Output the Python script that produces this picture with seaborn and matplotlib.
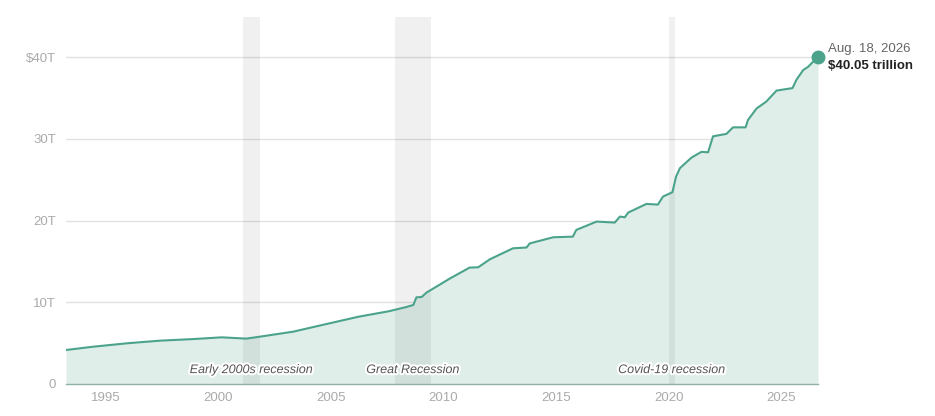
import pandas as pd
import numpy as np
import matplotlib.pyplot as plt
import matplotlib.patheffects as pe
import seaborn as sns

sns.set_theme(style="white")
plt.rcParams['font.family'] = ['Liberation Sans', 'DejaVu Sans']

# Total public debt outstanding, trillions of dollars
dates = ['1993-04-01', '1994-06-01', '1995-12-15', '1997-06-01', '1998-12-01', '2000-03-01',
         '2001-04-01', '2002-01-01', '2003-05-01', '2004-10-01', '2006-04-01', '2007-08-01',
         '2008-05-01', '2008-09-01', '2008-10-20', '2009-01-15', '2009-04-01', '2010-04-15',
         '2011-03-01', '2011-07-20', '2012-01-25', '2013-02-01', '2013-09-10', '2013-11-01',
         '2014-11-15', '2015-10-01', '2015-11-25', '2016-10-20', '2017-08-10', '2017-11-01',
         '2018-01-20', '2018-03-15', '2019-01-05', '2019-07-10', '2019-10-01', '2020-03-01',
         '2020-05-01', '2020-07-01', '2021-01-05', '2021-06-15', '2021-10-01', '2021-12-20',
         '2022-07-25', '2022-11-10', '2023-06-01', '2023-07-10', '2023-11-25', '2024-05-01',
         '2024-10-15', '2025-07-01', '2025-09-01', '2025-12-20', '2026-03-10', '2026-08-18']
debt = [4.16, 4.55, 4.98, 5.30, 5.50, 5.71,
        5.55, 5.85, 6.40, 7.30, 8.24, 8.90,
        9.40, 9.67, 10.60, 10.65, 11.18, 12.90,
        14.24, 14.28, 15.26, 16.60, 16.70, 17.20,
        17.95, 18.03, 18.85, 19.87, 19.75, 20.48,
        20.40, 20.97, 22.03, 21.95, 22.93, 23.46,
        25.40, 26.40, 27.70, 28.40, 28.35, 30.30,
        30.60, 31.40, 31.40, 32.30, 33.70, 34.55,
        35.90, 36.20, 37.20, 38.40, 38.80, 40.05]

recessions = [('Early 2000s recession', '2001-02-05', '2001-11-10'),
              ('Great Recession', '2007-11-05', '2009-06-15'),
              ('Covid-19 recession', '2020-01-01', '2020-04-10')]

y_ticks = [0, 10, 20, 30, 40]
y_labels = ['0', '10T', '20T', '30T', '$40T']
x_ticks = [1995, 2000, 2005, 2010, 2015, 2020, 2025]

df = pd.DataFrame({'date': pd.to_datetime(dates), 'debt': debt})

line_color = '#4aa38a'
fill_color = '#e0eeea'

fig = plt.figure(figsize=(9.35, 4.16), dpi=100)
ax = fig.add_axes([66 / 935, 1 - 384 / 416, (818 - 66) / 935, (384 - 17) / 416])

for yt in y_ticks[1:]:
    ax.axhline(yt, color='#e2e2e2', lw=1, zorder=1)

ax.fill_between(df['date'], 0, df['debt'], color=fill_color, zorder=2, lw=0)

# recession bands, laid over the area so they darken it a bit
for name, start, end in recessions:
    ax.axvspan(pd.Timestamp(start), pd.Timestamp(end), color='black', alpha=0.06, zorder=2.5, lw=0)

sns.lineplot(data=df, x='date', y='debt', ax=ax, color=line_color, lw=1.5, zorder=3)
ax.plot(df['date'].iloc[-1], df['debt'].iloc[-1], 'o', color=line_color, ms=9, zorder=4, clip_on=False)

for name, start, end in recessions:
    mid = pd.Timestamp(start) + (pd.Timestamp(end) - pd.Timestamp(start)) / 2
    ax.text(mid, 1.7, name, ha='center', va='center', style='italic', fontsize=9, color='#555555',
            zorder=5, path_effects=[pe.withStroke(linewidth=3, foreground='white')])

last_date = df['date'].iloc[-1]
ax.annotate('Aug. 18, 2026', xy=(last_date, df['debt'].iloc[-1]), xytext=(7.5, 5.5), textcoords='offset points',
            fontsize=9.5, color='#666666', va='center', ha='left', annotation_clip=False)
ax.annotate('$40.05 trillion', xy=(last_date, df['debt'].iloc[-1]), xytext=(7.5, -6.5), textcoords='offset points',
            fontsize=9.5, color='#222222', fontweight='bold', va='center', ha='left', annotation_clip=False)

ax.set_xlim(pd.Timestamp('1993-04-01'), last_date)
ax.set_ylim(0, 44.9)
ax.set_yticks(y_ticks)
ax.set_yticklabels(y_labels)
ax.set_xticks([pd.Timestamp(f'{y}-01-01') for y in x_ticks])
ax.set_xticklabels([str(y) for y in x_ticks])
ax.tick_params(axis='both', length=0, labelsize=9.5, colors='#aaaaaa')
ax.tick_params(axis='y', pad=7)
ax.tick_params(axis='x', pad=6)
ax.set_xlabel('')
ax.set_ylabel('')
for side in ['top', 'right', 'left']:
    ax.spines[side].set_visible(False)
ax.spines['bottom'].set_color('#8fb0a6')
ax.spines['bottom'].set_linewidth(1)
ax.spines['bottom'].set_zorder(6)

fig.savefig('out.png', dpi=100)
